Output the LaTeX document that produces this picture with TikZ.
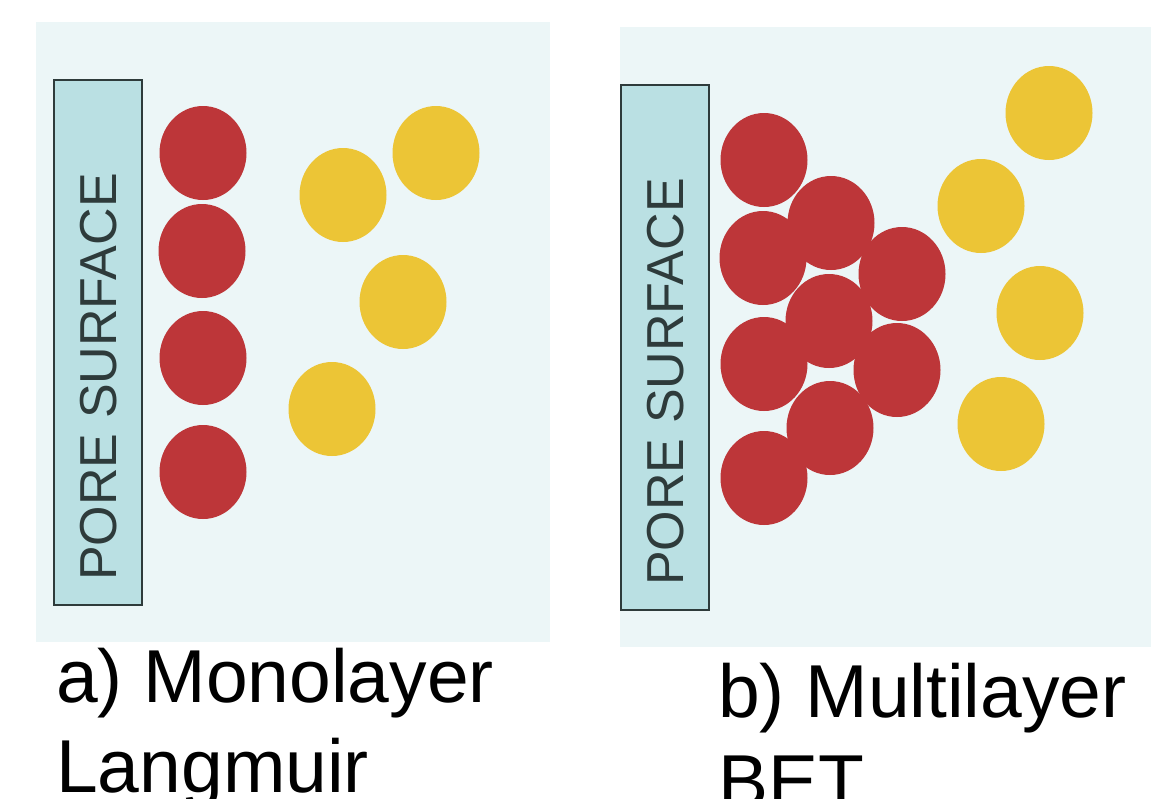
\documentclass[tikz,border=0pt]{standalone}
\usepackage{fontspec}
\setmainfont{Liberation Sans}
\usetikzlibrary{shapes.geometric}
\definecolor{panelbg}{HTML}{ECF6F7}
\definecolor{wallfill}{HTML}{BAE0E3}
\definecolor{wallline}{HTML}{2E3B3B}
\definecolor{molred}{HTML}{BD3639}
\definecolor{molyellow}{HTML}{ECC536}
\begin{document}
\begin{tikzpicture}[x=1pt,y=-1pt,
  panel/.style={fill=panelbg,draw=none},
  wall/.style={fill=wallfill,draw=wallline,line width=2pt},
  walltext/.style={rotate=90,text=wallline,font=\fontsize{52}{52}\selectfont,inner sep=0pt},
  ads/.style={ellipse,fill=molred,draw=none,minimum width=87pt,minimum height=94pt,inner sep=0pt},
  gas/.style={ellipse,fill=molyellow,draw=none,minimum width=87pt,minimum height=94pt,inner sep=0pt},
  caption/.style={anchor=base west,font=\fontsize{75}{90}\selectfont,inner sep=0pt}]
\useasboundingbox (0,0) rectangle (1151,798);
% panel a: monolayer
\fill[panel] (36,22) rectangle (550,642);
\draw[wall] (54,80) rectangle (142,605);
\node[walltext] (wa) at (99,377) {PORE SURFACE};
\node[ads] (a1) at (203,153) {};
\node[ads] (a2) at (202,251) {};
\node[ads] (a3) at (203,358) {};
\node[ads] (a4) at (203,472) {};
\node[gas] (g1) at (343,195) {};
\node[gas] (g2) at (436,153) {};
\node[gas] (g3) at (403,302) {};
\node[gas] (g4) at (332,409) {};
% panel b: multilayer
\fill[panel] (620,27) rectangle (1151,647);
\draw[wall] (621,85) rectangle (709,610);
\node[walltext] (wb) at (666,382) {PORE SURFACE};
\node[ads] (b1) at (764,160) {};
\node[ads] (b2) at (763,258) {};
\node[ads] (b3) at (764,364) {};
\node[ads] (b4) at (764,478) {};
\node[ads] (b5) at (831,223) {};
\node[ads] (b6) at (829,321) {};
\node[ads] (b7) at (830,428) {};
\node[ads] (b8) at (902,274) {};
\node[ads] (b9) at (897,370) {};
\node[gas] (h1) at (1049,113) {};
\node[gas] (h2) at (981,206) {};
\node[gas] (h3) at (1040,313) {};
\node[gas] (h4) at (1001,424) {};
% captions
\node[caption] (ca1) at (56,702) {a) Monolayer};
\node[caption] (ca2) at (56,792) {Langmuir};
\node[caption] (cb1) at (718,717) {b) Multilayer};
\node[caption] (cb2) at (718,807) {BET};
\end{tikzpicture}
\end{document}
